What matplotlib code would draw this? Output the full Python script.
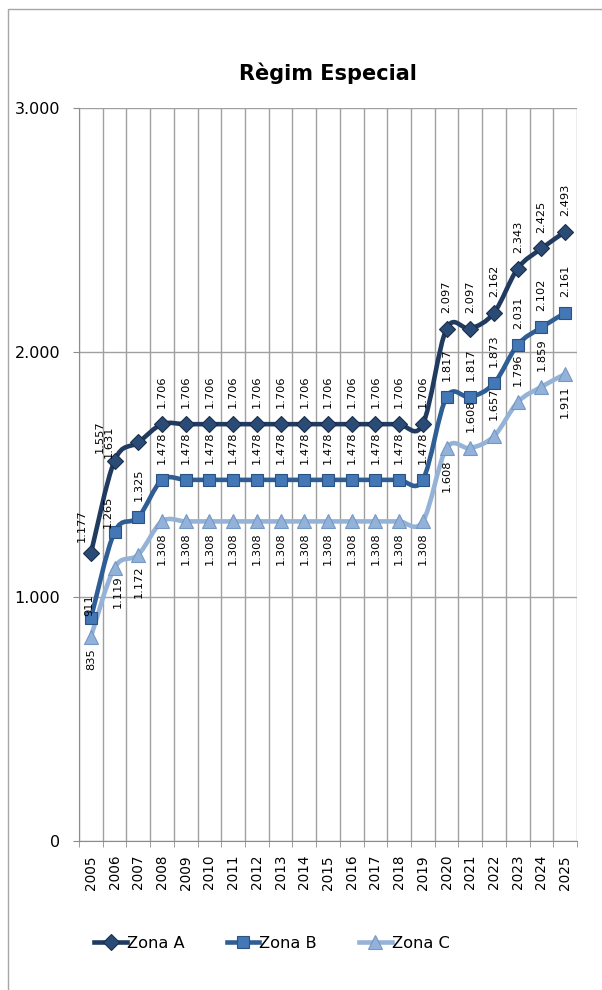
import numpy as np
import matplotlib
matplotlib.use('Agg')
import matplotlib.pyplot as plt
from matplotlib.path import Path
from matplotlib.patches import PathPatch
from matplotlib.lines import Line2D
from matplotlib.ticker import FuncFormatter, FixedLocator

years = [str(y) for y in range(2005, 2026)]
zona_a = [1177, 1557, 1631] + [1706] * 12 + [2097, 2097, 2162, 2343, 2425, 2493]
zona_b = [911, 1265, 1325] + [1478] * 12 + [1817, 1817, 1873, 2031, 2102, 2161]
zona_c = [835, 1119, 1172] + [1308] * 12 + [1608, 1608, 1657, 1796, 1859, 1911]

# name, values, line colour, marker, marker size, face, edge
series = [
    ('Zona A', zona_a, '#213b60', 'D', 8.5, '#2b4b77', '#1a2e4a'),
    ('Zona B', zona_b, '#2f5e94', 's', 8.5, '#4477b5', '#2a5282'),
    ('Zona C', zona_c, '#95b3d7', '^', 9.5, '#93b2da', '#7597c4'),
]

# label offsets in points (dx, dy, va)
label_tweaks = {
    ('Zona A', 0): (-6.5, 8, 'bottom'),
    ('Zona A', 1): (-11, 5.5, 'bottom'),
    ('Zona A', 2): (-21.5, -11.5, 'bottom'),
    ('Zona B', 0): (-1.5, 2, 'bottom'),
    ('Zona B', 1): (-4.7, 2.5, 'bottom'),
    ('Zona C', 1): (2.5, -5.8, 'top'),
}
c_above = {16, 17, 18, 19}


def smooth_path(x, y):
    # Excel-like smoothed line: cubic Bezier segments (Catmull-Rom control points)
    pts = np.column_stack([x, y]).astype(float)
    verts = [pts[0]]
    codes = [Path.MOVETO]
    n = len(pts)
    for i in range(n - 1):
        p0 = pts[max(i - 1, 0)]
        p1 = pts[i]
        p2 = pts[i + 1]
        p3 = pts[min(i + 2, n - 1)]
        verts += [p1 + (p2 - p0) / 6.0, p2 - (p3 - p1) / 6.0, p2]
        codes += [Path.CURVE4] * 3
    return Path(verts, codes)


fig = plt.figure(figsize=(6.02, 9.90), dpi=100)
# chart area border (only left and top edges fall inside the picture)
fig.lines.append(Line2D([7.5 / 602, 7.5 / 602, 1.0], [0.0, 1 - 8.5 / 990, 1 - 8.5 / 990],
                        transform=fig.transFigure, color='#a6a6a6', lw=1.0))
ax = fig.add_axes([79 / 602, 1 - 841 / 990, 498 / 602, 733 / 990])

x = np.arange(len(years))
for name, vals, lc, mk, ms, mfc, mec in series:
    patch = PathPatch(smooth_path(x, vals), facecolor='none', edgecolor=lc, lw=3.3,
                      capstyle='round', joinstyle='round', zorder=3)
    ax.add_patch(patch)
    ax.plot(x, vals, linestyle='none', marker=mk, markersize=ms,
            markerfacecolor=mfc, markeredgecolor=mec, markeredgewidth=0.8, zorder=4)
    ax.plot([], [], color=lc, lw=3.3, marker=mk, markersize=ms,
            markerfacecolor=mfc, markeredgecolor=mec, markeredgewidth=0.8, label=name)
    for i, v in enumerate(vals):
        txt = '{:,}'.format(v).replace(',', '.')
        if name == 'Zona C' and i not in c_above:
            dx, dy, va = 0, -8, 'top'
        else:
            dx, dy, va = 0, 11.5, 'bottom'
        dx, dy, va = label_tweaks.get((name, i), (dx, dy, va))
        ax.annotate(txt, (i, v), xytext=(dx, dy), textcoords='offset points',
                    rotation=90, ha='center', va=va, fontsize=8.2, color='black', zorder=5)

ax.set_xlim(-0.5, len(years) - 0.5)
ax.set_ylim(0, 3000)
ax.set_xticks(x)
ax.set_xticklabels(years, rotation=90, fontsize=9.8)
ax.xaxis.set_minor_locator(FixedLocator(np.arange(-0.5, len(years), 1.0)))
ax.set_yticks([0, 1000, 2000, 3000])
ax.yaxis.set_major_formatter(FuncFormatter(lambda v, p: '{:,.0f}'.format(v).replace(',', '.')))
ax.tick_params(axis='y', labelsize=11.5, length=4.5, color='#8c8c8c', pad=9)
ax.tick_params(axis='x', which='major', length=0, pad=10)
ax.tick_params(axis='x', which='minor', length=4, color='#8c8c8c')
ax.grid(axis='y', color='#a0a0a0', lw=1.0)
ax.grid(axis='x', which='minor', color='#a0a0a0', lw=1.0)
for side in ['top', 'right']:
    ax.spines[side].set_visible(False)
for side in ['left', 'bottom']:
    ax.spines[side].set_color('#8c8c8c')
ax.set_axisbelow(True)

ax.set_title('Règim Especial', fontsize=15, fontweight='bold', pad=20)

ax.legend(loc='center', bbox_to_anchor=(272 / 602, 1 - 943 / 990), bbox_transform=fig.transFigure,
          ncol=3, frameon=False, fontsize=11.7, handlelength=2.0, handletextpad=0.0,
          columnspacing=2.6)

plt.savefig('out.png', dpi=100)
